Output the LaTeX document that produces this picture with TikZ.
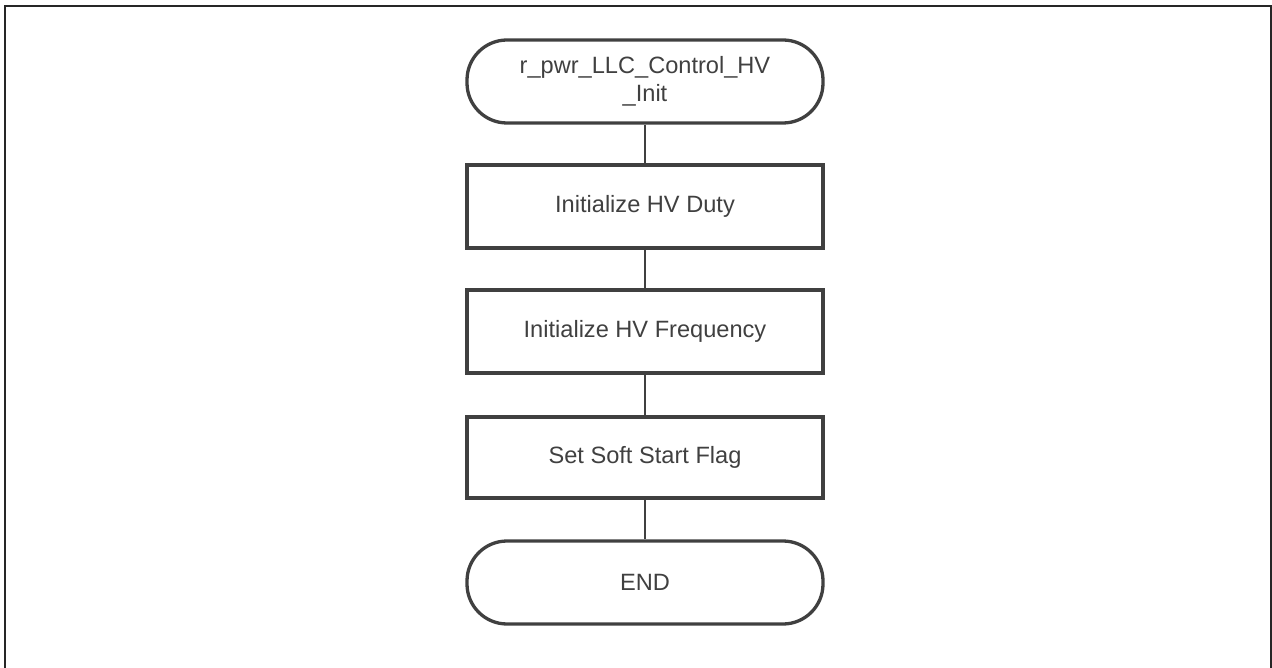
\documentclass[tikz,border=0pt]{standalone}
\usepackage{fontspec}
\setmainfont{Liberation Sans}
\definecolor{ink}{HTML}{404040}
\begin{document}
\begin{tikzpicture}[x=1pt,y=-1pt,
  box/.style={draw=ink,line width=3.3pt,minimum width=356pt,minimum height=83pt,inner sep=0pt,text=ink,font=\fontsize{23.6}{28}\selectfont,align=center},
  term/.style={box,rounded corners=40pt},
  link/.style={draw=ink,line width=2pt}]
\useasboundingbox (0,0) rectangle (1272,668);
\draw[line width=2pt,black!85] (4.5,668) -- (4.5,6) -- (1271,6) -- (1271,668);
\node[term] (start) at (645,81.5) {r\_pwr\_LLC\_Control\_HV\\\_Init};
\node[box] (duty) at (645,206.5) {Initialize HV Duty};
\node[box] (freq) at (645,331.5) {Initialize HV Frequency};
\node[box,minimum height=81pt] (soft) at (645,457.5) {Set Soft Start Flag};
\node[term] (end) at (645,582.5) {END};
\draw[link] (start) -- (duty);
\draw[link] (duty) -- (freq);
\draw[link] (freq) -- (soft);
\draw[link] (soft) -- (end);
\end{tikzpicture}
\end{document}
